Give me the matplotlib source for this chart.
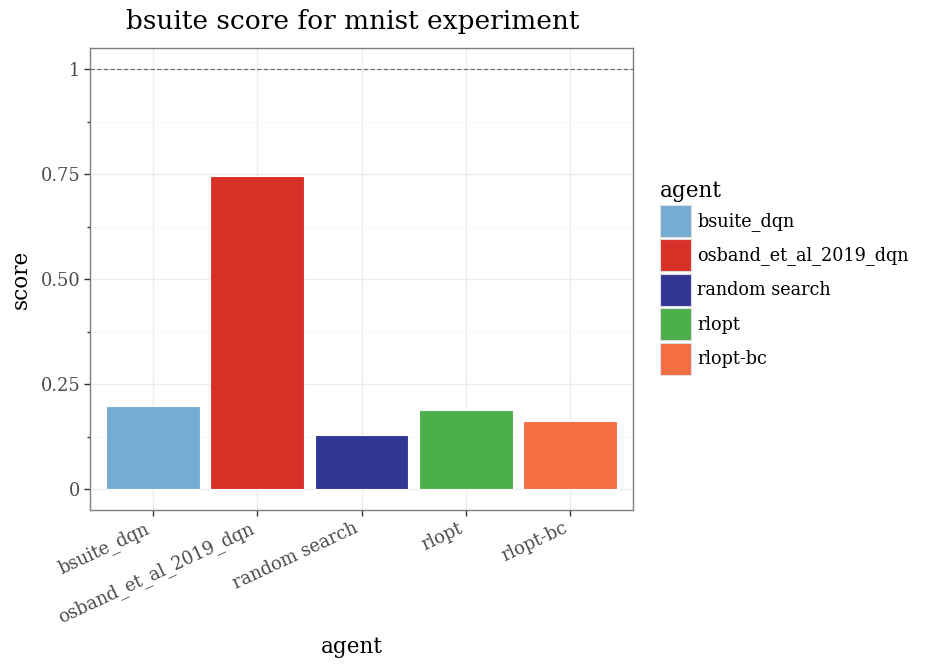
import matplotlib
matplotlib.use("Agg")
import matplotlib.pyplot as plt
import matplotlib.transforms as mtransforms
from matplotlib.patches import Patch
import numpy as np

agents = ["bsuite_dqn", "osband_et_al_2019_dqn", "random search", "rlopt", "rlopt-bc"]
scores = [0.198, 0.745, 0.129, 0.188, 0.162]
colors = ["#74add1", "#d73027", "#313695", "#4daf4a", "#f46d43"]
yticks = [0, 0.25, 0.5, 0.75, 1]
yticklabels = ["0", "0.25", "0.50", "0.75", "1"]

plt.rcParams['font.family'] = ['DejaVu Serif']

fig = plt.figure(figsize=(9.38, 6.68), dpi=100)
ax = fig.add_axes([90/938, 1-510/668, (633-90)/938, (510-48)/668])

x = np.arange(len(agents))
ax.bar(x, scores, width=0.9, color=colors, edgecolor="white", linewidth=0.8, zorder=3)
ax.axhline(1.0, color="#666666", linestyle=(0, (4, 2)), linewidth=0.8, zorder=4)

ax.set_xlim(-0.6, len(agents) - 0.4)
ax.set_ylim(-0.05, 1.05)
ax.set_yticks(yticks)
ax.set_yticklabels(yticklabels)
ax.set_yticks([0.125, 0.375, 0.625, 0.875], minor=True)
ax.set_xticks(x)
ax.set_xticklabels([])

# rotated x tick labels, anchored just left of each tick
trans = ax.get_xaxis_transform() + mtransforms.ScaledTranslation(-8/100, -9/100, fig.dpi_scale_trans)
for xi, name in zip(x, agents):
    ax.text(xi, 0, name, transform=trans, rotation=25, ha="right", va="top",
            rotation_mode="anchor", fontsize=12.9, color="#4d4d4d", clip_on=False)

ax.grid(True, which="major", color="#ebebeb", linewidth=0.9, zorder=0)
ax.grid(True, which="minor", axis="y", color="#f5f5f5", linewidth=0.6, zorder=0)
ax.set_axisbelow(True)
for s in ax.spines.values():
    s.set_color("#7f7f7f")
    s.set_linewidth(1.0)
ax.tick_params(which="major", length=4, width=1, color="#333333", labelsize=12.9, labelcolor="#4d4d4d", pad=3)
ax.tick_params(which="minor", length=2, width=1, color="#333333")

fig.text(353/938, 1-22/668, "bsuite score for mnist experiment", fontsize=19,
         ha="center", va="center")
fig.text(352/938, 1-647/668, "agent", fontsize=15.5, ha="center", va="center")
ax.set_ylabel("score", fontsize=15.5, labelpad=6)

handles = [Patch(facecolor=c, edgecolor="#dddddd", linewidth=0.8) for c in colors]
leg = fig.legend(handles, agents, loc="upper left", bbox_to_anchor=(660/938, 1-180/668),
                 frameon=False, fontsize=12.7, title="agent", title_fontsize=15.5,
                 handlelength=1.76, handleheight=2.41, labelspacing=0.147,
                 handletextpad=0.35, borderaxespad=0, borderpad=0)
leg._legend_box.align = "left"

fig.savefig("out.png", dpi=100)
